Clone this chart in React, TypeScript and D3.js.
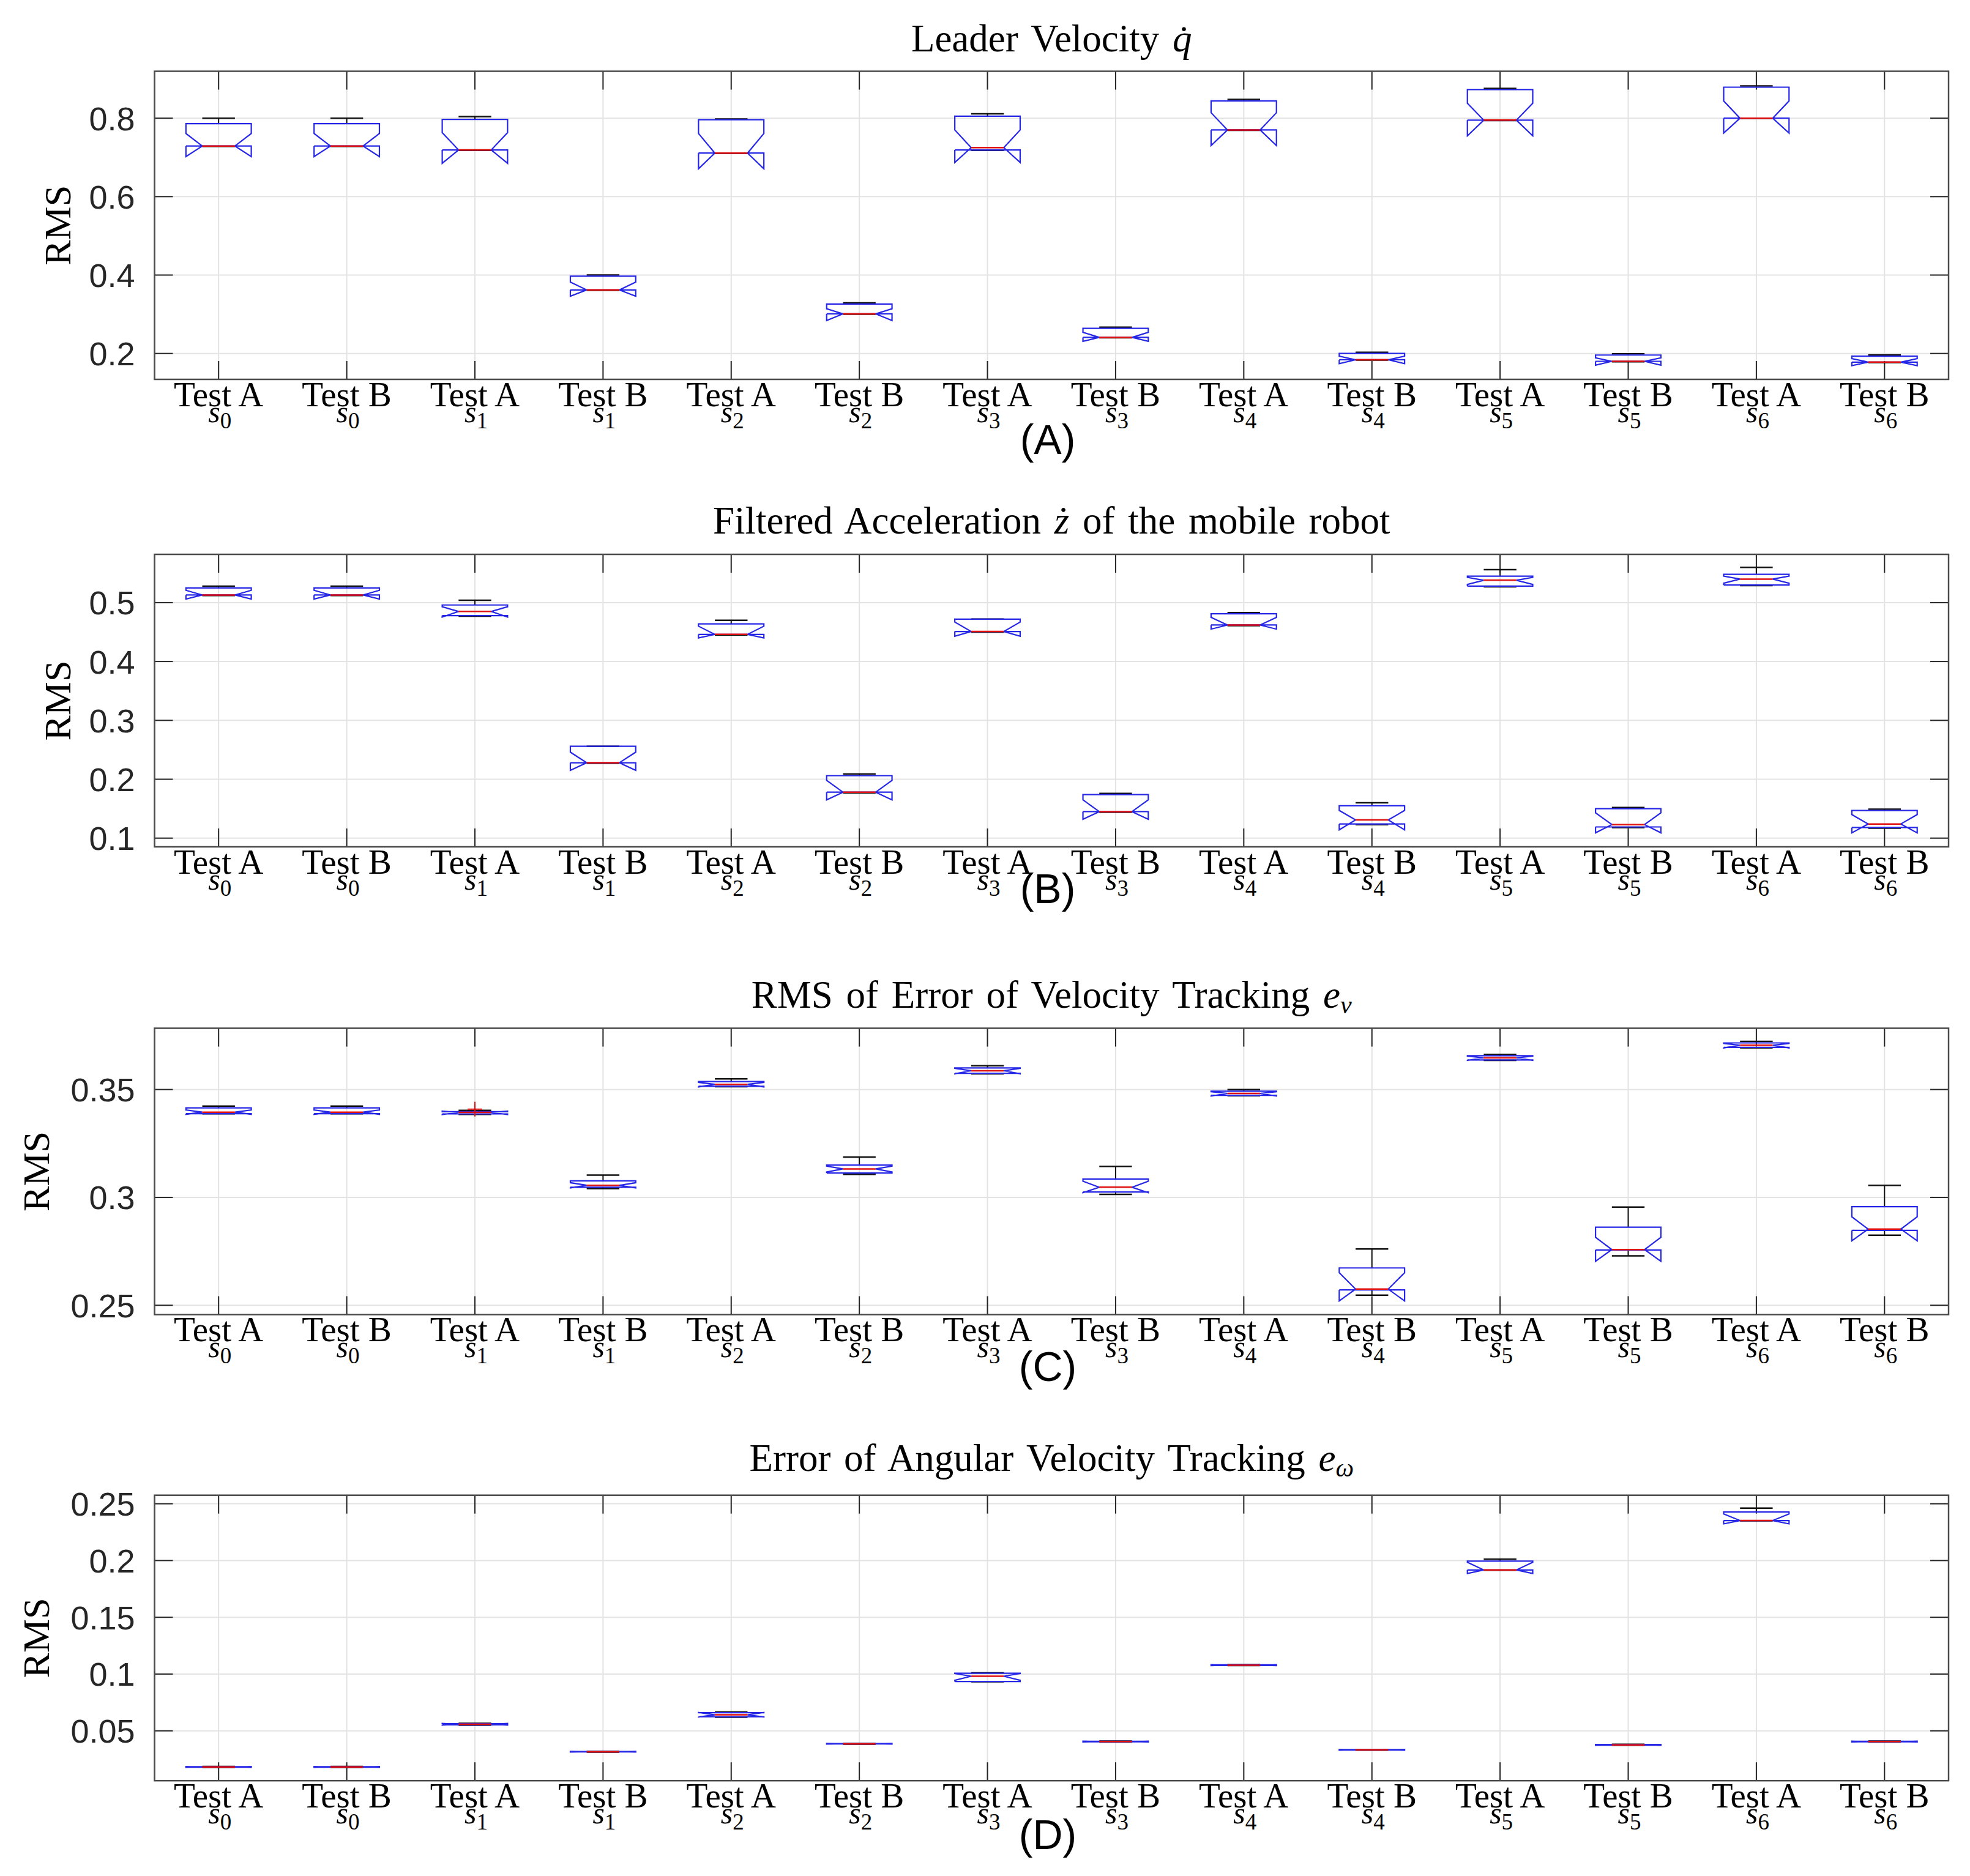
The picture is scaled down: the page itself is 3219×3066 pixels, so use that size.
import React from "react";
import * as d3 from "d3";

// ---------- DATA ----------
const testLabels = ["Test A", "Test B", "Test A", "Test B", "Test A", "Test B", "Test A", "Test B", "Test A", "Test B", "Test A", "Test B", "Test A", "Test B"];
const scenarioIdx = ["0", "0", "1", "1", "2", "2", "3", "3", "4", "4", "5", "5", "6", "6"];

// each entry: [lowerWhisker, q1, median, q3, upperWhisker, notchLow, notchHigh]
const leaderVelocity = [
  [0.728, 0.729, 0.729, 0.786, 0.800, 0.702, 0.761],
  [0.728, 0.729, 0.729, 0.786, 0.800, 0.702, 0.761],
  [0.718, 0.719, 0.719, 0.797, 0.804, 0.685, 0.763],
  [0.361, 0.362, 0.362, 0.397, 0.400, 0.346, 0.382],
  [0.710, 0.711, 0.711, 0.796, 0.798, 0.671, 0.761],
  [0.300, 0.301, 0.301, 0.326, 0.329, 0.284, 0.314],
  [0.718, 0.719, 0.725, 0.805, 0.811, 0.687, 0.770],
  [0.240, 0.241, 0.241, 0.264, 0.267, 0.231, 0.254],
  [0.769, 0.770, 0.770, 0.844, 0.848, 0.730, 0.814],
  [0.183, 0.184, 0.184, 0.200, 0.203, 0.174, 0.193],
  [0.794, 0.795, 0.795, 0.873, 0.876, 0.755, 0.838],
  [0.179, 0.180, 0.180, 0.196, 0.199, 0.170, 0.189],
  [0.799, 0.800, 0.800, 0.879, 0.882, 0.762, 0.844],
  [0.177, 0.178, 0.178, 0.193, 0.196, 0.169, 0.187],
];

const filteredAcceleration = [
  [0.512, 0.513, 0.513, 0.525, 0.528, 0.506, 0.521],
  [0.512, 0.513, 0.513, 0.525, 0.528, 0.506, 0.521],
  [0.477, 0.478, 0.485, 0.496, 0.504, 0.4755, 0.493],
  [0.227, 0.228, 0.228, 0.256, 0.256, 0.215, 0.246],
  [0.445, 0.446, 0.446, 0.464, 0.470, 0.440, 0.460],
  [0.177, 0.178, 0.178, 0.206, 0.209, 0.165, 0.198],
  [0.450, 0.451, 0.451, 0.472, 0.472, 0.443, 0.467],
  [0.144, 0.145, 0.145, 0.174, 0.176, 0.132, 0.165],
  [0.461, 0.462, 0.462, 0.481, 0.483, 0.455, 0.475],
  [0.123, 0.124, 0.131, 0.155, 0.160, 0.114, 0.147],
  [0.527, 0.528, 0.538, 0.545, 0.556, 0.531, 0.543],
  [0.118, 0.119, 0.123, 0.150, 0.152, 0.109, 0.143],
  [0.529, 0.530, 0.540, 0.548, 0.560, 0.533, 0.545],
  [0.117, 0.118, 0.124, 0.147, 0.149, 0.109, 0.140],
];

const velocityError = [
  [0.3388, 0.3388, 0.3395, 0.3415, 0.3423, 0.3385, 0.3405],
  [0.3388, 0.3388, 0.3395, 0.3415, 0.3423, 0.3385, 0.3405],
  [0.3385, 0.3387, 0.3394, 0.3397, 0.3403, 0.3384, 0.3400],
  [0.3041, 0.3047, 0.3056, 0.3077, 0.3103, 0.3044, 0.3068],
  [0.3513, 0.3515, 0.3524, 0.3537, 0.3549, 0.3512, 0.3533],
  [0.3107, 0.3113, 0.3132, 0.3150, 0.3187, 0.3118, 0.3145],
  [0.3573, 0.3575, 0.3587, 0.3600, 0.3610, 0.3573, 0.3598],
  [0.3014, 0.3025, 0.3047, 0.3085, 0.3144, 0.3022, 0.3075],
  [0.3471, 0.3473, 0.3482, 0.3492, 0.3500, 0.3470, 0.3490],
  [0.2547, 0.2571, 0.2575, 0.2673, 0.2761, 0.2520, 0.2651],
  [0.3635, 0.3637, 0.3647, 0.3657, 0.3663, 0.3635, 0.3655],
  [0.2729, 0.2756, 0.2758, 0.2862, 0.2955, 0.2704, 0.2815],
  [0.3693, 0.3695, 0.3705, 0.3716, 0.3723, 0.3693, 0.3714],
  [0.2825, 0.2847, 0.2853, 0.2957, 0.3056, 0.2799, 0.2910],
];
const velocityErrorOutliers = [[2, 0.3409]];

const angularError = [
  [0.0178, 0.0180, 0.0182, 0.0184, 0.0186, 0.0179, 0.0185],
  [0.0178, 0.0180, 0.0182, 0.0184, 0.0186, 0.0179, 0.0185],
  [0.0550, 0.0553, 0.0558, 0.0563, 0.0566, 0.0551, 0.0565],
  [0.0313, 0.0314, 0.0316, 0.0318, 0.0319, 0.0313, 0.0319],
  [0.0620, 0.0624, 0.0641, 0.0660, 0.0665, 0.0622, 0.0662],
  [0.0383, 0.0384, 0.0386, 0.0388, 0.0389, 0.0383, 0.0389],
  [0.0932, 0.0934, 0.0981, 0.1007, 0.1010, 0.0945, 0.1005],
  [0.0402, 0.0403, 0.0405, 0.0408, 0.0410, 0.0402, 0.0409],
  [0.1075, 0.1076, 0.1078, 0.1081, 0.1083, 0.1075, 0.1082],
  [0.0330, 0.0331, 0.0333, 0.0335, 0.0336, 0.0330, 0.0336],
  [0.1914, 0.1917, 0.1917, 0.1995, 0.2012, 0.1886, 0.1985],
  [0.0373, 0.0374, 0.0376, 0.0379, 0.0381, 0.0373, 0.0380],
  [0.2350, 0.2352, 0.2352, 0.2427, 0.2461, 0.2323, 0.2410],
  [0.0402, 0.0403, 0.0405, 0.0408, 0.0410, 0.0402, 0.0409],
];

const ticksA = ["0.2", "0.4", "0.6", "0.8"];
const ticksB = ["0.1", "0.2", "0.3", "0.4", "0.5"];
const ticksC = ["0.25", "0.3", "0.35"];
const ticksD = ["0.05", "0.1", "0.15", "0.2", "0.25"];

const domainA = [0.134, 0.9196];
const domainB = [0.0852, 0.582];
const domainC = [0.2457, 0.3784];
const domainD = [0.0061, 0.2575];

// ---------- LAYOUT ----------
const W = 3219;
const H = 3066;
const plotLeft = 252.5;
const plotRight = 3184;
const SERIF = "'Liberation Serif', 'Times New Roman', serif";
const SANS = "'Liberation Sans', Arial, Helvetica, sans-serif";
const BLUE = "#2626e6";
const RED = "#e01010";

type PanelProps = {
  stats: number[][];
  ticks: string[];
  domain: number[];
  top: number;
  bottom: number;
  title: React.ReactNode;
  titleBaseline: number;
  letter: string;
  letterBaseline: number;
  rmsX: number;
  outliers?: number[][];
};

function Panel(p: PanelProps) {
  const x = d3.scaleBand<number>().domain(d3.range(testLabels.length)).range([plotLeft, plotRight]).padding(0);
  const bw = x.bandwidth();
  const cx = (i: number) => (x(i) as number) + bw / 2;
  const y = d3.scaleLinear().domain(p.domain).range([p.bottom, p.top]);
  const boxW = bw * 0.51;
  const notchD = boxW / 4;
  const capW = boxW / 2;
  const tickLen = 30;
  const line = d3.line<[number, number]>();
  const midX = (plotLeft + plotRight) / 2;

  return (
    <g>
      {/* grid */}
      {p.ticks.map((t) => (
        <line key={"gy" + t} x1={plotLeft} x2={plotRight} y1={y(+t)} y2={y(+t)} stroke="#e3e3e3" strokeWidth={2} />
      ))}
      {testLabels.map((_, i) => (
        <line key={"gx" + i} x1={cx(i)} x2={cx(i)} y1={p.top} y2={p.bottom} stroke="#e3e3e3" strokeWidth={2} />
      ))}
      {/* ticks */}
      {testLabels.map((_, i) => (
        <g key={"tx" + i}>
          <line x1={cx(i)} x2={cx(i)} y1={p.bottom} y2={p.bottom - tickLen} stroke="#262626" strokeWidth={2} />
          <line x1={cx(i)} x2={cx(i)} y1={p.top} y2={p.top + tickLen} stroke="#262626" strokeWidth={2} />
        </g>
      ))}
      {p.ticks.map((t) => (
        <g key={"ty" + t}>
          <line x1={plotLeft} x2={plotLeft + tickLen} y1={y(+t)} y2={y(+t)} stroke="#262626" strokeWidth={2} />
          <line x1={plotRight} x2={plotRight - tickLen} y1={y(+t)} y2={y(+t)} stroke="#262626" strokeWidth={2} />
          <text x={plotLeft - 32} y={y(+t)} dy="0.36em" textAnchor="end" fontFamily={SANS} fontSize={54} fill="#262626">
            {t}
          </text>
        </g>
      ))}
      {/* boxes */}
      {p.stats.map((s, i) => {
        const [lo, q1, med, q3, hi, nlo, nhi] = s;
        const c = cx(i);
        const L = c - boxW / 2;
        const R = c + boxW / 2;
        const pts: [number, number][] = [
          [L, y(q1)], [L, y(nlo)], [L + notchD, y(med)], [L, y(nhi)], [L, y(q3)],
          [R, y(q3)], [R, y(nhi)], [R - notchD, y(med)], [R, y(nlo)], [R, y(q1)], [L, y(q1)],
        ];
        return (
          <g key={"b" + i}>
            <line x1={c} x2={c} y1={y(q3)} y2={y(hi)} stroke="#111" strokeWidth={2} />
            <line x1={c} x2={c} y1={y(q1)} y2={y(lo)} stroke="#111" strokeWidth={2} />
            <line x1={c - capW / 2} x2={c + capW / 2} y1={y(hi)} y2={y(hi)} stroke="#111" strokeWidth={2.5} />
            <line x1={c - capW / 2} x2={c + capW / 2} y1={y(lo)} y2={y(lo)} stroke="#111" strokeWidth={2.5} />
            <path d={line(pts) as string} fill="none" stroke={BLUE} strokeWidth={2.2} />
            <line x1={L + notchD} x2={R - notchD} y1={y(med)} y2={y(med)} stroke={RED} strokeWidth={2.5} />
          </g>
        );
      })}
      {(p.outliers || []).map((o, k) => (
        <g key={"o" + k}>
          <line x1={cx(o[0]) - 12} x2={cx(o[0]) + 12} y1={y(o[1])} y2={y(o[1])} stroke={RED} strokeWidth={2} />
          <line x1={cx(o[0])} x2={cx(o[0])} y1={y(o[1]) - 12} y2={y(o[1]) + 12} stroke={RED} strokeWidth={2} />
        </g>
      ))}
      {/* frame */}
      <rect x={plotLeft} y={p.top} width={plotRight - plotLeft} height={p.bottom - p.top} fill="none" stroke="#4a4a4a" strokeWidth={2.5} />
      {/* x labels (two lines in one text) */}
      {testLabels.map((t, i) => (
        <text key={"xl" + i} fontFamily={SERIF} fill="#000" textAnchor="middle" fontSize={57}>
          <tspan x={cx(i)} y={p.bottom + 44}>{t}</tspan>
          <tspan x={cx(i) + 2} y={p.bottom + 70} fontStyle="italic" fontSize={50}>s</tspan>
          <tspan fontSize={37} dy={10}>{scenarioIdx[i]}</tspan>
        </text>
      ))}
      {/* y label */}
      <text
        transform={`translate(${p.rmsX},${(p.top + p.bottom) / 2}) rotate(-90)`}
        textAnchor="middle"
        dy="0.35em"
        fontFamily={SERIF}
        fontSize={62}
        fill="#000"
      >
        RMS
      </text>
      {/* title */}
      <text x={midX} y={p.titleBaseline} textAnchor="middle" fontFamily={SERIF} fontSize={63} fill="#000" style={{ wordSpacing: "6px" }}>
        {p.title}
      </text>
      {/* panel letter */}
      <text x={1712} y={p.letterBaseline} textAnchor="middle" fontFamily={SANS} fontSize={68} fill="#000">
        {p.letter}
      </text>
    </g>
  );
}

export default function App() {
  return (
    <svg
      width={W}
      height={H}
      viewBox={`0 0 ${W} ${H}`}
      style={{ position: "absolute", left: 0, top: 0, display: "block", background: "#fff" }}
    >
      <rect x={0} y={0} width={W} height={H} fill="#fff" />
      <Panel
        stats={leaderVelocity}
        ticks={ticksA}
        domain={domainA}
        top={116.5}
        bottom={620}
        title={<>Leader Velocity <tspan fontStyle="italic">{"q\u0307"}</tspan></>}
        titleBaseline={84}
        letter="(A)"
        letterBaseline={742}
        rmsX={93}
      />
      <Panel
        stats={filteredAcceleration}
        ticks={ticksB}
        domain={domainB}
        top={906}
        bottom={1384}
        title={<>Filtered Acceleration <tspan fontStyle="italic">{"\u017C"}</tspan> of the mobile robot</>}
        titleBaseline={872}
        letter="(B)"
        letterBaseline={1476}
        rmsX={93}
      />
      <Panel
        stats={velocityError}
        ticks={ticksC}
        domain={domainC}
        top={1680.5}
        bottom={2148.4}
        title={<>RMS of Error of Velocity Tracking <tspan fontStyle="italic">e</tspan><tspan fontStyle="italic" fontSize={42} dy={9}>v</tspan></>}
        titleBaseline={1647}
        letter="(C)"
        letterBaseline={2257}
        rmsX={58}
        outliers={velocityErrorOutliers}
      />
      <Panel
        stats={angularError}
        ticks={ticksD}
        domain={domainD}
        top={2443.7}
        bottom={2910.2}
        title={<>Error of Angular Velocity Tracking <tspan fontStyle="italic">e</tspan><tspan fontStyle="italic" fontSize={42} dy={9}>{"\u03C9"}</tspan></>}
        titleBaseline={2404}
        letter="(D)"
        letterBaseline={3022}
        rmsX={58}
      />
    </svg>
  );
}
